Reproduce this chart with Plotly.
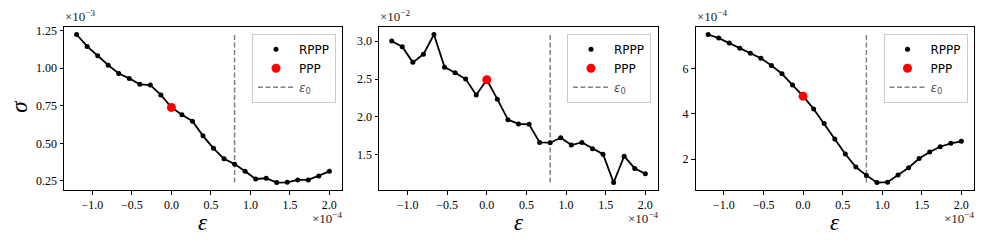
import plotly.graph_objects as go

# x values in units of 1e-4
eps = [-1.2, -1.0667, -0.9333, -0.8, -0.6667, -0.5333, -0.4, -0.2667, -0.1333, 0.0,
       0.1333, 0.2667, 0.4, 0.5333, 0.6667, 0.8, 0.9333, 1.0667, 1.2, 1.3333,
       1.4667, 1.6, 1.7333, 1.8667, 2.0]

# panel 1: sigma in units of 1e-3
sigma1 = [1.224, 1.145, 1.083, 1.020, 0.965, 0.932, 0.893, 0.888, 0.822, 0.739,
          0.691, 0.647, 0.550, 0.467, 0.397, 0.362, 0.314, 0.263, 0.268, 0.239,
          0.241, 0.257, 0.257, 0.283, 0.314]
# panel 2: sigma in units of 1e-2
sigma2 = [3.000, 2.926, 2.720, 2.826, 3.087, 2.657, 2.583, 2.500, 2.291, 2.490,
          2.235, 1.965, 1.909, 1.904, 1.665, 1.661, 1.726, 1.630, 1.665, 1.583,
          1.509, 1.135, 1.483, 1.322, 1.252]
# panel 3: sigma in units of 1e-4
sigma3 = [7.52, 7.36, 7.14, 6.91, 6.69, 6.47, 6.15, 5.78, 5.28, 4.79,
          4.22, 3.58, 2.89, 2.23, 1.65, 1.28, 0.96, 0.98, 1.30, 1.62,
          2.03, 2.32, 2.55, 2.70, 2.79]

ppp_eps = 0.0
ppp_sigma = [0.739, 2.490, 4.79]
eps0 = 0.8

y_exponents = ["−3", "−2", "−4"]
x_exponent = "−4"
x_ticks = [-1.0, -0.5, 0.0, 0.5, 1.0, 1.5, 2.0]
y_dticks = [0.25, 0.5, 2]
y_formats = [".2f", ".1f", ".0f"]

series = [sigma1, sigma2, sigma3]

# page body has an 8px default margin; place everything in page pixels minus that offset
OFF = 8
W, H = 987 - OFF, 247 - OFF
def px(x):
    return (x - OFF) / W
def py(y):
    return 1 - (y - OFF) / H

xdoms = [(64, 342), (379, 658), (695.5, 974)]
ytop, ybot = 24.3, 189.3
legend_right = [336, 651, 967.5]
legend_top = 31

fig = go.Figure()
serif = "Liberation Serif"
sans = "DejaVu Sans"

annotations = []
for i, s in enumerate(series):
    k = "" if i == 0 else str(i + 1)
    xa, ya = "x" + k, "y" + k
    lg = "legend" + k
    lo, hi = min(s), max(s)
    # eps0 vertical dashed line spanning data range
    fig.add_trace(go.Scatter(x=[eps0, eps0], y=[lo, hi], mode="lines",
                             line=dict(color="#808080", width=1.5, dash="5px,2.5px"),
                             name="<span style='color:#555'><i>ε</i><sub>0</sub></span>",
                             xaxis=xa, yaxis=ya, legend=lg, legendrank=3))
    fig.add_trace(go.Scatter(x=eps, y=s, mode="lines", line=dict(color="black", width=1.8),
                             showlegend=False, xaxis=xa, yaxis=ya, hoverinfo="skip"))
    fig.add_trace(go.Scatter(x=eps, y=s, mode="markers", marker=dict(color="black", size=5),
                             name="RPPP", xaxis=xa, yaxis=ya, legend=lg, legendrank=1))
    fig.add_trace(go.Scatter(x=[ppp_eps], y=[ppp_sigma[i]], mode="markers",
                             marker=dict(color="red", size=9),
                             name="PPP", xaxis=xa, yaxis=ya, legend=lg, legendrank=2))

    pad = 0.05 * (hi - lo)
    xpad = 0.05 * (eps[-1] - eps[0])
    x0, x1 = xdoms[i]
    axcommon = dict(showline=True, linecolor="black", linewidth=1, mirror=True,
                    ticks="outside", ticklen=3.5, tickwidth=1, tickcolor="black",
                    showgrid=False, zeroline=False,
                    tickfont=dict(family=serif, size=12, color="black"))
    fig.update_layout(**{
        "xaxis" + k: dict(domain=[px(x0), px(x1)], anchor=ya,
                          range=[eps[0] - xpad, eps[-1] + xpad],
                          tickvals=x_ticks, tickformat=".1f", **axcommon),
        "yaxis" + k: dict(domain=[py(ybot), py(ytop)], anchor=xa,
                          range=[lo - pad, hi + pad], tick0=0, dtick=y_dticks[i],
                          tickformat=y_formats[i], **axcommon),
        lg: dict(x=px(legend_right[i]), xanchor="right", y=py(legend_top), yanchor="top",
                 xref="paper", yref="paper", itemwidth=36,
                 bgcolor="rgba(255,255,255,0.8)", bordercolor="#cccccc", borderwidth=1,
                 font=dict(family=sans, size=12, color="black"), traceorder="normal"),
    })
    # multiplier labels
    annotations.append(dict(x=px(x0 - 1), y=py(23), xref="paper", yref="paper",
                            xanchor="left", yanchor="bottom", showarrow=False,
                            text=f"×10<sup>{y_exponents[i]}</sup>",
                            font=dict(family=serif, size=13, color="#222")))
    annotations.append(dict(x=px(x1 + 2), y=py(208), xref="paper", yref="paper",
                            xanchor="right", yanchor="top", showarrow=False,
                            text=f"×10<sup>{x_exponent}</sup>",
                            font=dict(family=serif, size=13, color="#222")))
    annotations.append(dict(x=px((x0 + x1) / 2), y=py(222), xref="paper", yref="paper",
                            xanchor="center", yanchor="middle", showarrow=False,
                            text="<i>ε</i>", font=dict(family=serif, size=23, color="black")))

annotations.append(dict(x=px(19), y=py(105), xref="paper", yref="paper",
                        xanchor="center", yanchor="middle", showarrow=False, textangle=-90,
                        height=22,
                        text="<i>σ</i>", font=dict(family=serif, size=23, color="black")))

fig.update_layout(width=W, height=H, margin=dict(l=0, r=0, t=0, b=0),
                  paper_bgcolor="white", plot_bgcolor="white",
                  annotations=annotations, showlegend=True)

fig.write_html("out.html")
